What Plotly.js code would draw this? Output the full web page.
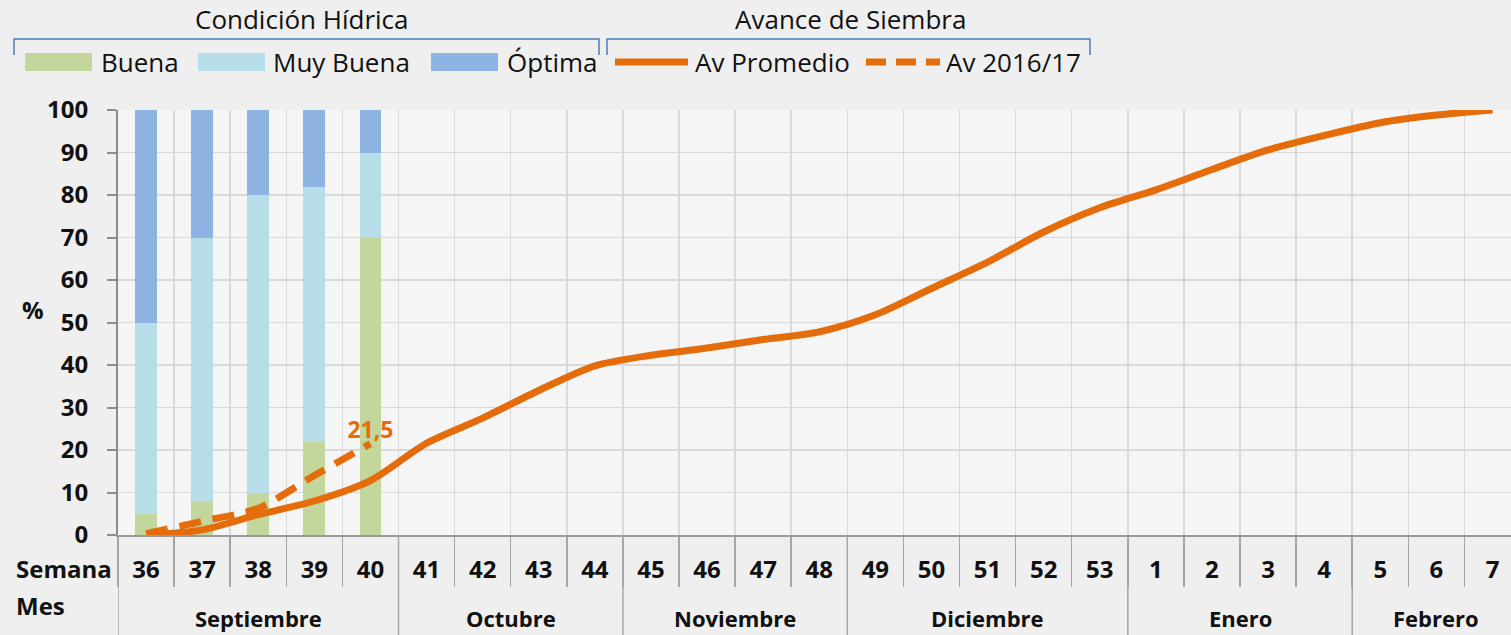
<!DOCTYPE html>
<html>
<head>
<meta charset="utf-8">
<script src="https://cdn.plot.ly/plotly-3.0.1.min.js"></script>
<style>
  html, body { margin: 0; padding: 0; overflow: hidden; background: #f0f0f0; }
  #chart { width: 1511px; height: 635px; }
</style>
</head>
<body>
<div id="chart"></div>
<script>
// ---- Data ----
const weeks = ['36','37','38','39','40','41','42','43','44','45','46','47','48','49','50','51','52','53','1','2','3','4','5','6','7'];
const months = ['Septiembre','Septiembre','Septiembre','Septiembre','Septiembre',
                'Octubre','Octubre','Octubre','Octubre',
                'Noviembre','Noviembre','Noviembre','Noviembre',
                'Diciembre','Diciembre','Diciembre','Diciembre','Diciembre',
                'Enero','Enero','Enero','Enero',
                'Febrero','Febrero','Febrero'];
const condWeeks = ['36','37','38','39','40'];
const buena    = [5, 8, 10, 22, 70];
const muyBuena = [45, 62, 70, 60, 20];
const optima   = [50, 30, 20, 18, 10];
const avPromedio = [0, 1.2, 4.8, 8, 12.8, 21.6, 27.5, 34, 39.8, 42.3, 44, 46, 47.8, 51.8, 58, 64.2, 71.3, 77, 81.2, 86, 90.6, 94, 97, 98.8, 100];
const av1617Weeks = ['36','37','38','39','40'];
const av1617 = [0.3, 3.2, 6.3, 14, 21.5];
const av1617Labels = ['', '', '', '', '21,5'];
const yTicks = [0,10,20,30,40,50,60,70,80,90,100];

// ---- Helpers ----
const idx = w => weeks.indexOf(w);
const xIdx = weeks.map((w, i) => i);

const colBuena = '#C3D69B', colMuy = '#B7DEE8', colOpt = '#8EB4E3', colOrange = '#E46C0A';
const fontReg = {family: 'Open Sans, sans-serif', size: 26, color: '#111111'};
const fontBold = {family: 'Open Sans, sans-serif', size: 24, color: '#111111', weight: 'bold'};
const fontMonth = {family: 'Open Sans, sans-serif', size: 22, color: '#111111', weight: 'bold'};

const traces = [
  {type: 'bar', name: 'Buena', x: condWeeks.map(idx), y: buena, marker: {color: colBuena}, width: 0.39, showlegend: false},
  {type: 'bar', name: 'Muy Buena', x: condWeeks.map(idx), y: muyBuena, marker: {color: colMuy}, width: 0.39, showlegend: false},
  {type: 'bar', name: 'Óptima', x: condWeeks.map(idx), y: optima, marker: {color: colOpt}, width: 0.39, showlegend: false},
  {type: 'scatter', mode: 'lines', name: 'Av Promedio', x: xIdx, y: avPromedio,
   line: {color: colOrange, width: 7, shape: 'spline', smoothing: 0.8}, showlegend: false},
  {type: 'scatter', mode: 'lines+text', name: 'Av 2016/17', x: av1617Weeks.map(idx), y: av1617,
   text: av1617Labels, textposition: 'top center',
   textfont: {family: 'Open Sans, sans-serif', size: 23, color: colOrange, weight: 'bold'},
   line: {color: colOrange, width: 7, dash: '22px,12px', shape: 'spline', smoothing: 0.8}, showlegend: false}
];

// month groups
const groups = [];
months.forEach((m, i) => {
  if (!groups.length || groups[groups.length - 1].name !== m) groups.push({name: m, start: i, end: i});
  else groups[groups.length - 1].end = i;
});

const shapes = [];
const annotations = [];

// month dividers (below axis)
groups.forEach(g => {
  shapes.push({type: 'line', xref: 'x', yref: 'paper', x0: g.start - 0.5, x1: g.start - 0.5, y0: 0, y1: -0.25,
               line: {color: '#a6a6a6', width: 1.5}, layer: 'above'});
  annotations.push({xref: 'x', yref: 'paper', x: (g.start + g.end) / 2, y: 0, yshift: -83, yanchor: 'middle',
                    text: g.name, showarrow: false, font: fontMonth, borderpad: 0});
});

// row labels
annotations.push({xref: 'paper', yref: 'paper', x: 0, xshift: -104, xanchor: 'left', y: 0, yshift: -33, yanchor: 'middle',
                  text: 'Semana', showarrow: false, font: fontBold});
annotations.push({xref: 'paper', yref: 'paper', x: 0, xshift: -104, xanchor: 'left', y: 0, yshift: -70, yanchor: 'middle',
                  text: 'Mes', showarrow: false, font: fontBold});
annotations.push({xref: 'paper', yref: 'paper', x: 0, xshift: -85, xanchor: 'center', y: 0.53, yanchor: 'middle',
                  text: '%', showarrow: false, font: fontBold});

// ---- Custom legend (pixel offsets from plot top-left) ----
const px = (x0, x1, y0, y1) => ({xref: 'paper', yref: 'paper', xsizemode: 'pixel', ysizemode: 'pixel',
                                  xanchor: 0, yanchor: 1, x0: x0, x1: x1, y0: y0, y1: y1});
const bracketColor = '#4A7EBB';
shapes.push(Object.assign(px(0,0,0,0), {type: 'path', path: 'M-104,55 L-104,71 L481,71 L481,55', line: {color: bracketColor, width: 1.5}}));
shapes.push(Object.assign(px(0,0,0,0), {type: 'path', path: 'M489,55 L489,71 L972,71 L972,55', line: {color: bracketColor, width: 1.5}}));
annotations.push({xref: 'paper', yref: 'paper', x: 0, xshift: 184, xanchor: 'center', y: 1, yshift: 91, yanchor: 'middle',
                  text: 'Condición Hídrica', showarrow: false, font: fontReg});
annotations.push({xref: 'paper', yref: 'paper', x: 0, xshift: 732, xanchor: 'center', y: 1, yshift: 91, yanchor: 'middle',
                  text: 'Avance de Siembra', showarrow: false, font: fontReg});

const legendItems = [
  {name: traces[0].name, kind: 'rect', color: colBuena, s0: -93, s1: -26, tx: -19},
  {name: traces[1].name, kind: 'rect', color: colMuy, s0: 80, s1: 147, tx: 153},
  {name: traces[2].name, kind: 'rect', color: colOpt, s0: 313, s1: 380, tx: 387},
  {name: traces[3].name, kind: 'line', color: colOrange, s0: 497, s1: 570, tx: 575},
  {name: traces[4].name, kind: 'dash', color: colOrange, s0: 748, s1: 822, tx: 826}
];
legendItems.forEach(it => {
  if (it.kind === 'rect') {
    shapes.push(Object.assign(px(it.s0, it.s1, 57, 39), {type: 'rect', fillcolor: it.color, line: {width: 0}}));
  } else {
    shapes.push(Object.assign(px(it.s0, it.s1, 48, 48), {type: 'line',
      line: {color: it.color, width: 7, dash: it.kind === 'dash' ? '20px,10px' : 'solid'}}));
  }
  annotations.push({xref: 'paper', yref: 'paper', x: 0, xshift: it.tx, xanchor: 'left', y: 1, yshift: 48, yanchor: 'middle',
                    text: it.name, showarrow: false, font: fontReg});
});

const layout = {
  width: 1511, height: 635,
  margin: {l: 118, r: 0, t: 110, b: 100, pad: 0},
  paper_bgcolor: '#efefef',
  plot_bgcolor: '#f5f5f5',
  barmode: 'stack',
  showlegend: false,
  font: {family: 'Open Sans, sans-serif', color: '#111111'},
  xaxis: {
    type: 'linear', range: [-0.5, 24.33], tickmode: 'array', tickvals: xIdx, ticktext: weeks,
    ticks: '', showgrid: false, zeroline: false, showline: true, linecolor: '#9a9a9a', linewidth: 2,
    tickfont: fontBold, ticklabelstandoff: 12,
    minor: {tick0: -0.5, dtick: 1, ticks: 'outside', ticklen: 50, tickwidth: 1.5, tickcolor: '#a6a6a6',
            showgrid: true, gridcolor: '#d9d9d9', gridwidth: 1.5}
  },
  yaxis: {
    range: [0, 100], tickmode: 'array', tickvals: yTicks, ticks: 'outside', ticklen: 9, tickwidth: 2, tickcolor: '#8c8c8c',
    showline: true, linecolor: '#8c8c8c', linewidth: 2, zeroline: false,
    showgrid: true, gridcolor: '#d9d9d9', gridwidth: 1.5, tickfont: fontBold, ticklabelstandoff: 14
  },
  shapes: shapes,
  annotations: annotations
};

Plotly.newPlot('chart', traces, layout, {displayModeBar: false, staticPlot: true});
</script>
</body>
</html>
